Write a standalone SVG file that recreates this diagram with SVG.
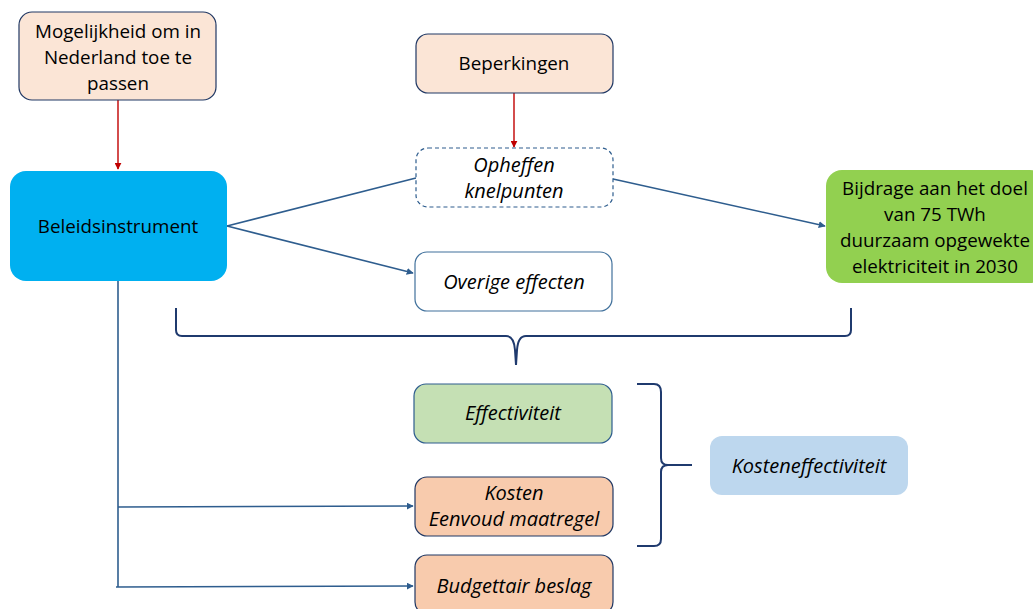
<svg xmlns="http://www.w3.org/2000/svg" width="1033" height="609" viewBox="0 0 1033 609">
<defs>
<style>
text{font-family:"Open Sans","Liberation Sans",sans-serif;font-size:18.8px;fill:#000;text-anchor:middle}
.it{font-style:italic;font-size:20px}
.peach{fill:#fbe5d6;stroke:#203864;stroke-width:1.2}
.conn{stroke:#2e5d8e;stroke-width:1.6;fill:none}
.red{stroke:#c00000;stroke-width:1.4;fill:none}
.brace{stroke:#1f3a6e;stroke-width:2;fill:none}
</style>
<marker id="ab" viewBox="0 0 10 10" refX="9" refY="5" markerWidth="7" markerHeight="7" orient="auto" markerUnits="userSpaceOnUse"><path d="M0,0 L10,5 L0,10 z" fill="#2e5d8e"/></marker>
<marker id="ar" viewBox="0 0 10 10" refX="9" refY="5" markerWidth="7" markerHeight="7" orient="auto" markerUnits="userSpaceOnUse"><path d="M0,0 L10,5 L0,10 z" fill="#c00000"/></marker>
</defs>
<rect width="1033" height="609" fill="#fff"/>
<g id="connectors">
<line class="red" x1="118" y1="100" x2="118" y2="169" marker-end="url(#ar)"/>
<line class="red" x1="514" y1="93" x2="514" y2="147" marker-end="url(#ar)"/>
<line class="conn" x1="227" y1="226" x2="416" y2="178"/>
<line class="conn" x1="227" y1="226" x2="413" y2="273" marker-end="url(#ab)"/>
<line class="conn" x1="613" y1="179" x2="825" y2="226" marker-end="url(#ab)"/>
<polyline class="conn" points="118,281 118,587"/>
<line class="conn" x1="118" y1="507" x2="413" y2="506" marker-end="url(#ab)"/>
<line class="conn" x1="116" y1="587" x2="413" y2="586" marker-end="url(#ab)"/>
<path class="brace" d="M176,308 L176,330 Q176,336 182,336 L506,336 Q514,336 515,350 L516,365 L517,350 Q518,336 526,336 L845,336 Q851,336 851,330 L851,308"/>
<path class="brace" d="M637,384 L654,384 Q661,384 661,392 L661,458 Q661,465 668,465 L692,465 L668,465 Q661,465 661,472 L661,539 Q661,546 654,546 L637,546"/>
</g>
<g id="n1"><rect class="peach" x="19" y="12" width="197" height="88" rx="13"/>
<text x="118" y="38">Mogelijkheid om in</text><text x="118" y="64">Nederland toe te</text><text x="118" y="90">passen</text></g>
<g id="n2"><rect x="10" y="171" width="217" height="110" rx="16" fill="#00b0f0"/>
<text x="118" y="233">Beleidsinstrument</text></g>
<g id="n3"><rect class="peach" x="416" y="34" width="197" height="59" rx="12"/>
<text x="514" y="70">Beperkingen</text></g>
<g id="n4"><rect x="416" y="148" width="197" height="59" rx="12" fill="#fff" stroke="#2e5d8e" stroke-width="1.2" stroke-dasharray="4,3"/>
<text class="it" x="514" y="172">Opheffen</text><text class="it" x="514" y="198">knelpunten</text></g>
<g id="n5"><rect x="415" y="252" width="197" height="59" rx="12" fill="#fff" stroke="#41719c" stroke-width="1.2"/>
<text class="it" x="514" y="289">Overige effecten</text></g>
<g id="n6"><rect x="826" y="170" width="220" height="113" rx="16" fill="#92d050"/>
<text x="935" y="195">Bijdrage aan het doel</text><text x="935" y="221">van 75 TWh</text><text x="935" y="247">duurzaam opgewekte</text><text x="935" y="273">elektriciteit in 2030</text></g>
<g id="n7"><rect x="414" y="384" width="198" height="59" rx="12" fill="#c5e0b4" stroke="#2e5d8e" stroke-width="1.2"/>
<text class="it" x="513" y="420">Effectiviteit</text></g>
<g id="n8"><rect x="415" y="477" width="198" height="59" rx="12" fill="#f8cbad" stroke="#203864" stroke-width="1.2"/>
<text class="it" x="514" y="500">Kosten</text><text class="it" x="514" y="526">Eenvoud maatregel</text></g>
<g id="n9"><rect x="415" y="555" width="198" height="59" rx="12" fill="#f8cbad" stroke="#203864" stroke-width="1.2"/>
<text class="it" x="514" y="593">Budgettair beslag</text></g>
<g id="n10"><rect x="710" y="436" width="198" height="59" rx="12" fill="#bdd7ee"/>
<text class="it" x="809" y="473">Kosteneffectiviteit</text></g>
</svg>
